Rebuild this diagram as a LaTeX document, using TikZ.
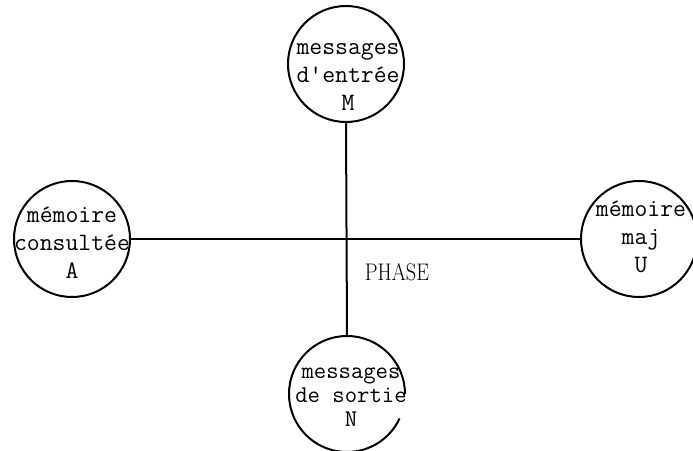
\documentclass[tikz,border=0pt]{standalone}
\begin{document}
\begin{tikzpicture}[x=1pt,y=1pt,line width=2pt,
  bulle/.style={circle,draw,minimum size=116pt,inner sep=0pt,outer sep=0pt},
  txt/.style={align=center,inner sep=0pt,font=\ttfamily\fontsize{25}{28}\selectfont}]
 \useasboundingbox (0,0) rectangle (693,450);
 \node[bulle] (M) at (346,386) {};
 \node[bulle] (A) at (72,211) {};
 \node[bulle] (U) at (639,211) {};
 \node[bulle,draw=none] (N) at (347,56) {};
 \draw (N.0) arc[start angle=0,end angle=335,radius=58pt];
 \draw (A.east) -- (U.west);
 \draw (M.south) -- (N.north);
 \node[txt] (tM) at (348,373) {messages\\d\textquotesingle entrée\\M};
 \node[txt] (tA) at (72,207) {mémoire\\consultée\\A};
 \node[txt] (tU) at (641,213) {mémoire\\maj\\U};
 \node[txt,font=\ttfamily\fontsize{24}{24}\selectfont] (tN) at (351,53) {messages\\de sortie\\N};
 \node[font=\fontsize{24}{24}\selectfont] (phase) at (397,178) {\scalebox{0.85}[1]{PHASE}};
\end{tikzpicture}
\end{document}
